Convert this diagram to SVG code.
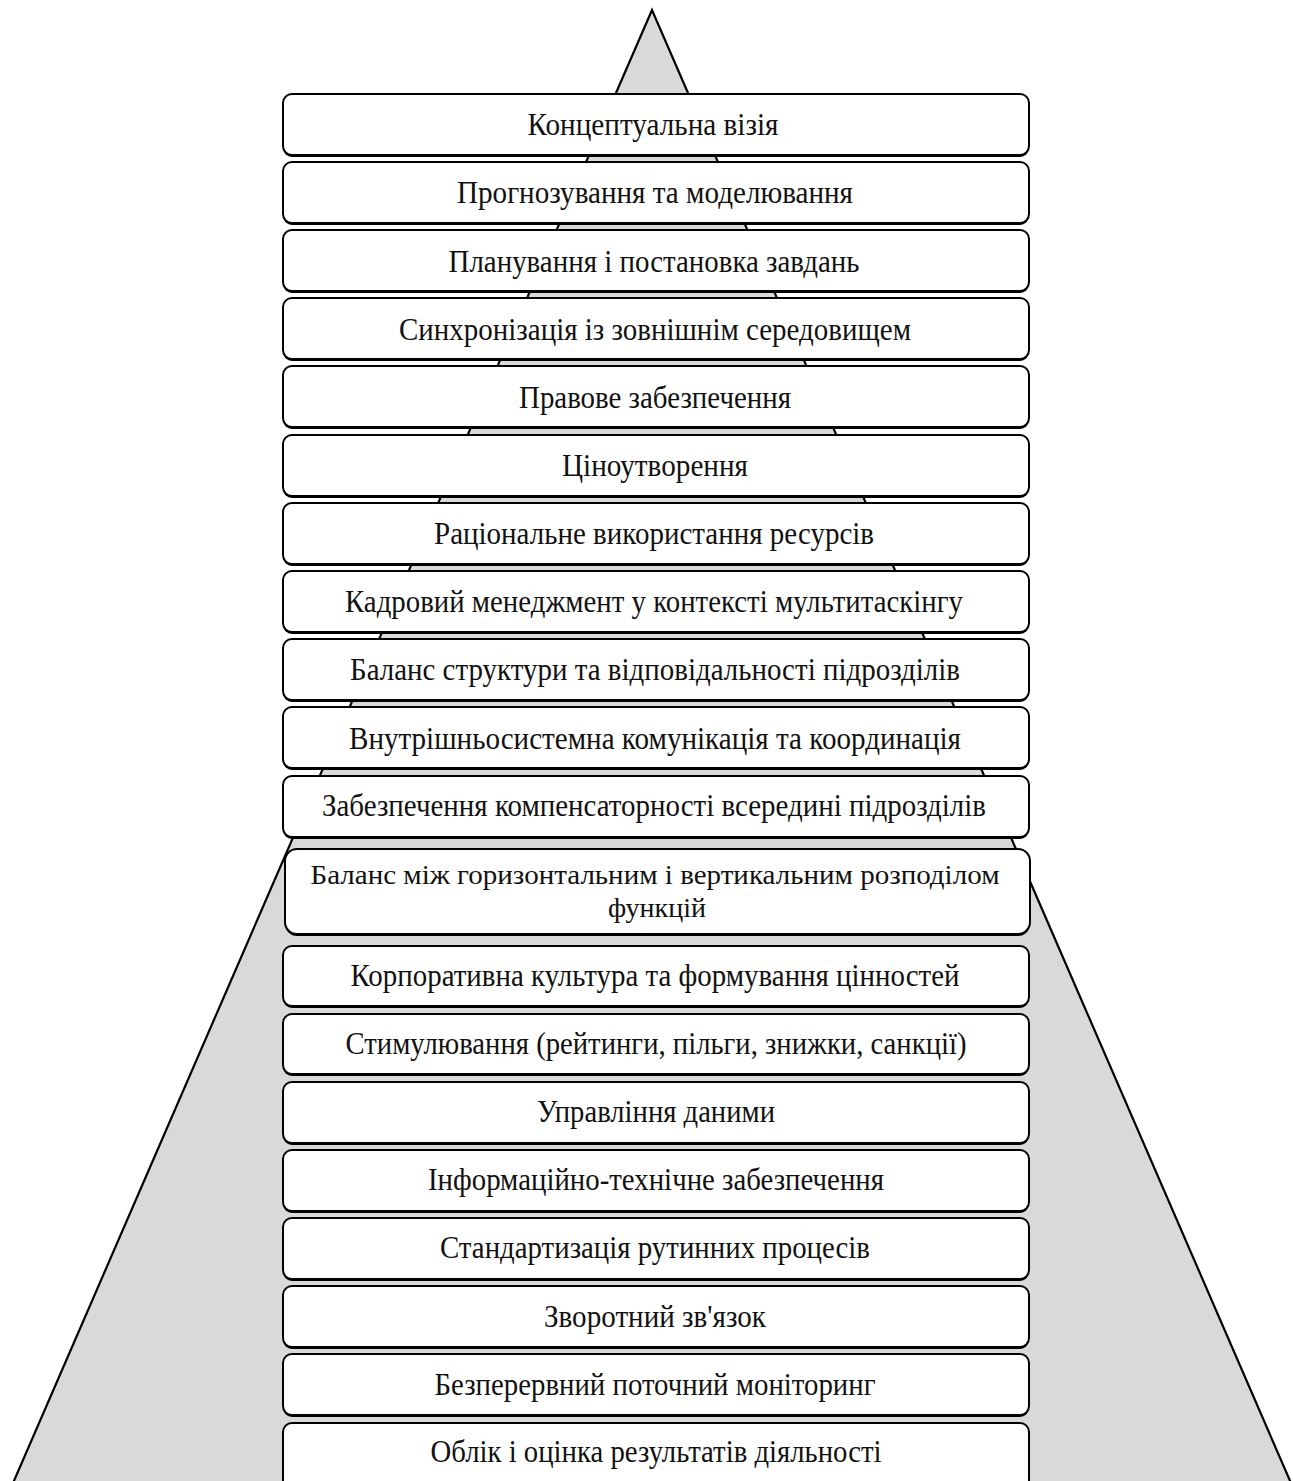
<svg xmlns="http://www.w3.org/2000/svg" width="1293" height="1481" viewBox="0 0 1293 1481">
<style>
.bx rect.sh{fill:#000}
.bx rect.fg{fill:#fff;stroke:#000;stroke-width:2}
.bx text{font-family:"Liberation Serif","Times New Roman",serif;font-size:31px;fill:#111;text-anchor:middle}
.bx text.sm{font-size:28px}
</style>
<rect width="1293" height="1481" fill="#fff"/>
<g id="pyramid">
<polygon points="652,10 10,1490 1294,1490" fill="#d9d9d9" stroke="#000" stroke-width="2.2" stroke-linejoin="miter"/>
</g>
<g id="connectors"></g>
<g id="n1" class="bx"><rect class="sh" x="283" y="96" width="746" height="61" rx="9"/><rect class="fg" x="283" y="94" width="746" height="61" rx="9"/><text x="653" y="135" textLength="251" lengthAdjust="spacingAndGlyphs">Концептуальна візія</text></g>
<g id="n2" class="bx"><rect class="sh" x="283" y="164" width="746" height="61" rx="9"/><rect class="fg" x="283" y="162" width="746" height="61" rx="9"/><text x="655" y="203" textLength="396" lengthAdjust="spacingAndGlyphs">Прогнозування та моделювання</text></g>
<g id="n3" class="bx"><rect class="sh" x="283" y="232" width="746" height="61" rx="9"/><rect class="fg" x="283" y="230" width="746" height="61" rx="9"/><text x="654" y="272" textLength="411" lengthAdjust="spacingAndGlyphs">Планування і постановка завдань</text></g>
<g id="n4" class="bx"><rect class="sh" x="283" y="300" width="746" height="61" rx="9"/><rect class="fg" x="283" y="298" width="746" height="61" rx="9"/><text x="655" y="340" textLength="512" lengthAdjust="spacingAndGlyphs">Синхронізація із зовнішнім середовищем</text></g>
<g id="n5" class="bx"><rect class="sh" x="283" y="368" width="746" height="61" rx="9"/><rect class="fg" x="283" y="366" width="746" height="61" rx="9"/><text x="655" y="408" textLength="272" lengthAdjust="spacingAndGlyphs">Правове забезпечення</text></g>
<g id="n6" class="bx"><rect class="sh" x="283" y="437" width="746" height="61" rx="9"/><rect class="fg" x="283" y="435" width="746" height="61" rx="9"/><text x="655" y="476" textLength="186" lengthAdjust="spacingAndGlyphs">Ціноутворення</text></g>
<g id="n7" class="bx"><rect class="sh" x="283" y="505" width="746" height="61" rx="9"/><rect class="fg" x="283" y="503" width="746" height="61" rx="9"/><text x="654" y="544" textLength="440" lengthAdjust="spacingAndGlyphs">Раціональне використання ресурсів</text></g>
<g id="n8" class="bx"><rect class="sh" x="283" y="573" width="746" height="61" rx="9"/><rect class="fg" x="283" y="571" width="746" height="61" rx="9"/><text x="654" y="612" textLength="618" lengthAdjust="spacingAndGlyphs">Кадровий менеджмент у контексті мультитаскінгу</text></g>
<g id="n9" class="bx"><rect class="sh" x="283" y="641" width="746" height="61" rx="9"/><rect class="fg" x="283" y="639" width="746" height="61" rx="9"/><text x="655" y="680" textLength="610" lengthAdjust="spacingAndGlyphs">Баланс структури та відповідальності підрозділів</text></g>
<g id="n10" class="bx"><rect class="sh" x="283" y="709" width="746" height="61" rx="9"/><rect class="fg" x="283" y="707" width="746" height="61" rx="9"/><text x="655" y="749" textLength="612" lengthAdjust="spacingAndGlyphs">Внутрішньосистемна комунікація та координація</text></g>
<g id="n11" class="bx"><rect class="sh" x="283" y="778" width="746" height="61" rx="9"/><rect class="fg" x="283" y="776" width="746" height="61" rx="9"/><text x="654" y="816" textLength="664" lengthAdjust="spacingAndGlyphs">Забезпечення компенсаторності всередині підрозділів</text></g>
<g id="n12" class="bx"><rect class="sh" x="285" y="851" width="745" height="85" rx="12"/><rect class="fg" x="285" y="849" width="745" height="85" rx="12"/><text class="sm" x="655" y="884" textLength="689" lengthAdjust="spacingAndGlyphs">Баланс між горизонтальним і вертикальним розподілом</text><text class="sm" x="657" y="917" textLength="98" lengthAdjust="spacingAndGlyphs">функцій</text></g>
<g id="n13" class="bx"><rect class="sh" x="283" y="948" width="746" height="60" rx="9"/><rect class="fg" x="283" y="946" width="746" height="60" rx="9"/><text x="655" y="986" textLength="609" lengthAdjust="spacingAndGlyphs">Корпоративна культура та формування цінностей</text></g>
<g id="n14" class="bx"><rect class="sh" x="283" y="1016" width="746" height="60" rx="9"/><rect class="fg" x="283" y="1014" width="746" height="60" rx="9"/><text x="656" y="1054" textLength="621" lengthAdjust="spacingAndGlyphs">Стимулювання (рейтинги, пільги, знижки, санкції)</text></g>
<g id="n15" class="bx"><rect class="sh" x="283" y="1084" width="746" height="61" rx="9"/><rect class="fg" x="283" y="1082" width="746" height="61" rx="9"/><text x="656" y="1122" textLength="238" lengthAdjust="spacingAndGlyphs">Управління даними</text></g>
<g id="n16" class="bx"><rect class="sh" x="283" y="1152" width="746" height="61" rx="9"/><rect class="fg" x="283" y="1150" width="746" height="61" rx="9"/><text x="656" y="1190" textLength="456" lengthAdjust="spacingAndGlyphs">Інформаційно-технічне забезпечення</text></g>
<g id="n17" class="bx"><rect class="sh" x="283" y="1220" width="746" height="61" rx="9"/><rect class="fg" x="283" y="1218" width="746" height="61" rx="9"/><text x="655" y="1258" textLength="430" lengthAdjust="spacingAndGlyphs">Стандартизація рутинних процесів</text></g>
<g id="n18" class="bx"><rect class="sh" x="283" y="1288" width="746" height="61" rx="9"/><rect class="fg" x="283" y="1286" width="746" height="61" rx="9"/><text x="655" y="1327" textLength="222" lengthAdjust="spacingAndGlyphs">Зворотний зв'язок</text></g>
<g id="n19" class="bx"><rect class="sh" x="283" y="1356" width="746" height="61" rx="9"/><rect class="fg" x="283" y="1354" width="746" height="61" rx="9"/><text x="655" y="1395" textLength="441" lengthAdjust="spacingAndGlyphs">Безперервний поточний моніторинг</text></g>
<g id="n20" class="bx"><rect class="sh" x="283" y="1425" width="746" height="70" rx="9"/><rect class="fg" x="283" y="1423" width="746" height="70" rx="9"/><text x="656" y="1462" textLength="451" lengthAdjust="spacingAndGlyphs">Облік і оцінка результатів діяльності</text></g>
</svg>
